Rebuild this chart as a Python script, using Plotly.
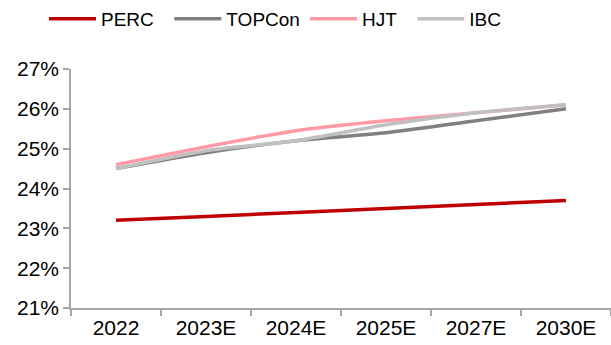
import plotly.graph_objects as go

categories = ["2022", "2023E", "2024E", "2025E", "2027E", "2030E"]
perc = [23.2, 23.3, 23.4, 23.5, 23.6, 23.7]
topcon = [24.5, 24.9, 25.2, 25.4, 25.7, 26.0]
hjt = [24.6, 25.05, 25.45, 25.7, 25.9, 26.1]
ibc = [24.5, 24.95, 25.2, 25.6, 25.9, 26.1]
series_names = ["PERC", "TOPCon", "HJT", "IBC"]
series_values = [perc, topcon, hjt, ibc]
series_colors = ["#C00000", "#808080", "#FF9AA5", "#C0C0C0"]
legend_pad = [2, 0, 2, 0]  # trailing non-breaking spaces to space legend entries
y_ticks = [21, 22, 23, 24, 25, 26, 27]

fig = go.Figure()
for name, vals, col, pad in zip(series_names, series_values, series_colors, legend_pad):
    fig.add_trace(go.Scatter(
        x=categories, y=[v / 100 for v in vals], name=name + "\u00a0" * pad,
        mode="lines", hovertemplate=name + ": %{y:.1%}<extra></extra>",
        line=dict(color=col, width=3.5, shape="spline", smoothing=0.6),
    ))

font_family = "Liberation Sans, Arial, sans-serif"
fig.update_layout(
    width=611, height=345,
    margin=dict(l=71, r=0, t=69, b=37, autoexpand=False),
    paper_bgcolor="white", plot_bgcolor="white",
    font=dict(family=font_family, size=20, color="#000000"),
    showlegend=True,
    legend=dict(orientation="h", x=44 / 611, xref="container", xanchor="left",
                y=1, yref="container", yanchor="top", font=dict(size=19),
                itemwidth=47, bgcolor="rgba(0,0,0,0)", tracegroupgap=0),
    xaxis=dict(type="category", range=[-0.5, 5.5], showline=True,
               linecolor="#A6A6A6", linewidth=1.5, showgrid=False,
               ticks="outside", ticklen=6, tickcolor="#A6A6A6", tickwidth=1.5,
               tickson="boundaries", tickfont=dict(size=21)),
    yaxis=dict(range=[0.21, 0.27], tickvals=[t / 100 for t in y_ticks],
               tickformat=".0%", showline=True, linecolor="#A6A6A6",
               linewidth=1.5, showgrid=False, zeroline=False,
               ticks="outside", ticklen=6, tickcolor="#A6A6A6", tickwidth=1.5,
               tickfont=dict(size=21)),
)
fig.write_html("out.html")
